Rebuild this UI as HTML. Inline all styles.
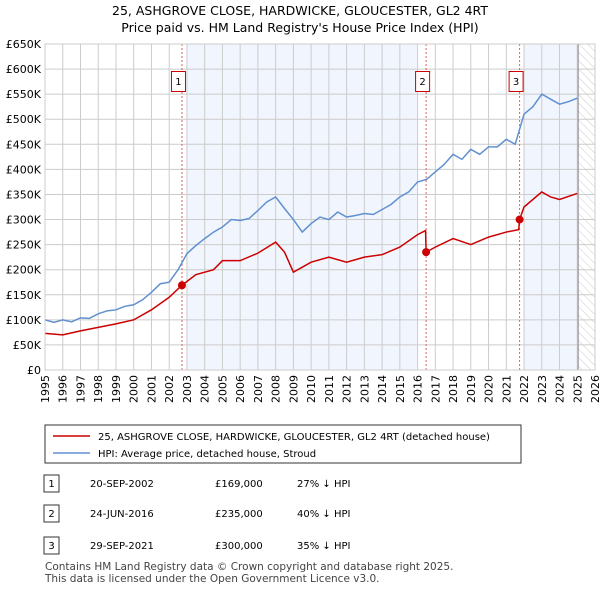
<!DOCTYPE html>
<html><head><meta charset="utf-8"><style>
body{margin:0;background:#fff;font-family:"DejaVu Sans","Liberation Sans",sans-serif;}
svg{display:block}
</style></head><body>
<svg width="600" height="590" xmlns="http://www.w3.org/2000/svg" font-family="DejaVu Sans, Liberation Sans, sans-serif">
<text x="300" y="15" text-anchor="middle" font-size="12.5">25, ASHGROVE CLOSE, HARDWICKE, GLOUCESTER, GL2 4RT</text>
<text x="300" y="32" text-anchor="middle" font-size="12.5">Price paid vs. HM Land Registry's House Price Index (HPI)</text>
<defs><pattern id="hatch" width="6" height="6" patternUnits="userSpaceOnUse" patternTransform="rotate(-45)"><line x1="0" y1="0" x2="0" y2="6" stroke="#ccc" stroke-width="1"/></pattern></defs>
<g id="plot"></g>
<g>
<rect x="45" y="425" width="476" height="38" fill="#fff" stroke="#333"/>
<line x1="53" y1="436" x2="90" y2="436" stroke="#cc0000" stroke-width="1.5"/>
<text x="98" y="440" font-size="10">25, ASHGROVE CLOSE, HARDWICKE, GLOUCESTER, GL2 4RT (detached house)</text>
<line x1="53" y1="453" x2="90" y2="453" stroke="#6090d0" stroke-width="1.5"/>
<text x="98" y="457" font-size="10">HPI: Average price, detached house, Stroud</text>
</g>
<g font-size="10">
<rect x="44" y="475" width="15" height="17" fill="#fff" stroke="#333"/><text x="51.5" y="487" text-anchor="middle">1</text>
<text x="90" y="487">20-SEP-2002</text><text x="215" y="487">£169,000</text><text x="297" y="487">27% ↓ HPI</text>
<rect x="44" y="505" width="15" height="17" fill="#fff" stroke="#333"/><text x="51.5" y="517" text-anchor="middle">2</text>
<text x="90" y="517">24-JUN-2016</text><text x="215" y="517">£235,000</text><text x="297" y="517">40% ↓ HPI</text>
<rect x="44" y="537" width="15" height="17" fill="#fff" stroke="#333"/><text x="51.5" y="549" text-anchor="middle">3</text>
<text x="90" y="549">29-SEP-2021</text><text x="215" y="549">£300,000</text><text x="297" y="549">35% ↓ HPI</text>
</g>
<text x="45" y="570" font-size="10.5" fill="#444">Contains HM Land Registry data © Crown copyright and database right 2025.</text>
<text x="45" y="582" font-size="10.5" fill="#444">This data is licensed under the Open Government Licence v3.0.</text>
</svg>
<script>
const hpiYears=[1995,1995.5,1996,1996.5,1997,1997.5,1998,1998.5,1999,1999.5,2000,2000.5,2001,2001.5,2002,2002.5,2003,2003.5,2004,2004.5,2005,2005.5,2006,2006.5,2007,2007.5,2008,2008.5,2009,2009.5,2010,2010.5,2011,2011.5,2012,2012.5,2013,2013.5,2014,2014.5,2015,2015.5,2016,2016.5,2017,2017.5,2018,2018.5,2019,2019.5,2020,2020.5,2021,2021.5,2022,2022.5,2023,2023.5,2024,2024.5,2025];
const hpiValues=[100,95,100,96,104,103,112,118,120,127,130,140,155,172,175,200,232,248,262,275,285,300,298,302,318,335,345,322,300,275,292,305,300,315,305,308,312,310,320,330,345,355,375,380,395,410,430,420,440,430,445,445,460,450,510,525,550,540,530,535,542];
const redYears=[1995,1996,1997,1998,1999,2000,2001,2002,2002.72,2003.5,2004.5,2005,2006,2007,2008,2008.5,2009,2010,2011,2012,2013,2014,2015,2016,2016.45,2016.48,2017,2018,2019,2020,2021,2021.7,2021.75,2022,2023,2023.5,2024,2025];
const redValues=[73,70,78,85,92,100,120,145,169,190,200,218,218,233,255,235,195,215,225,215,225,230,245,270,278,235,245,262,250,265,275,280,300,325,355,345,340,352];
const yTicks=[0,50,100,150,200,250,300,350,400,450,500,550,600,650];
const yTickLabels=["£0","£50K","£100K","£150K","£200K","£250K","£300K","£350K","£400K","£450K","£500K","£550K","£600K","£650K"];
const xTicks=[1995,1996,1997,1998,1999,2000,2001,2002,2003,2004,2005,2006,2007,2008,2009,2010,2011,2012,2013,2014,2015,2016,2017,2018,2019,2020,2021,2022,2023,2024,2025,2026];
const saleYears=[2002.72,2016.48,2021.75];
const saleValues=[169,235,300];
const saleLabels=["1","2","3"];
const shadeRanges=[[2003,2016],[2022,2025.05]];
const X0=45,X1=595,Y0=370,Y1=44;
const xs=y=>X0+(y-1995)/(2026-1995)*(X1-X0);
const ys=v=>Y0-v/650*(Y0-Y1);
const NS="http://www.w3.org/2000/svg";
const g=document.getElementById('plot');
function mk(t,a){const e=document.createElementNS(NS,t);for(const k in a)e.setAttribute(k,a[k]);g.appendChild(e);return e;}
shadeRanges.forEach(r=>{const e=mk('rect',{x:xs(r[0]),y:Y1,width:xs(r[1])-xs(r[0]),height:Y0-Y1,fill:'#f1f5fd'});

});
const h=mk('rect',{x:xs(2025.05),y:Y1,width:X1-xs(2025.05),height:Y0-Y1,fill:'url(#hatch)'});


yTicks.forEach((v,i)=>{mk('line',{x1:X0,x2:X1,y1:ys(v),y2:ys(v),stroke:'#ccc'});
const t=mk('text',{x:X0-4,y:ys(v)+4,'text-anchor':'end','font-size':11});t.textContent=yTickLabels[i];

});
xTicks.forEach(y=>{mk('line',{x1:xs(y),x2:xs(y),y1:Y1,y2:Y0,stroke:'#ccc'});
const t=mk('text',{x:xs(y)+4,y:Y0+5,'font-size':11,'text-anchor':'end',transform:`rotate(-90 ${xs(y)+4} ${Y0+5})`});t.textContent=y;

});
mk('line',{x1:xs(2025.05),x2:xs(2025.05),y1:Y1,y2:Y0,stroke:'#888'});
saleYears.forEach((y,i)=>{mk('line',{x1:xs(y),x2:xs(y),y1:Y1,y2:Y0,stroke:'#e06060','stroke-dasharray':'2,2'});
const b=mk('rect',{x:xs(y)-10.5,y:71.5,width:14,height:20,fill:'#fff',stroke:'#cc0000'});


const t=mk('text',{x:xs(y)-3.5,y:85,'text-anchor':'middle','font-size':10});t.textContent=saleLabels[i];});
function line(xsArr,vs,c,name){const p=mk('polyline',{points:xsArr.map((y,i)=>xs(y)+','+ys(vs[i])).join(' '),fill:'none',stroke:c,'stroke-width':1.5});

}
line(hpiYears,hpiValues,'#6090d0','hpi-line');
line(redYears,redValues,'#cc0000','price-paid-line');
saleYears.forEach((y,i)=>{const c=mk('circle',{cx:xs(y),cy:ys(saleValues[i]),r:4,fill:'#cc0000'});

});
mk('rect',{x:X0,y:Y1,width:X1-X0,height:Y0-Y1,fill:'none',stroke:'#ccc'});
</script>
</body></html>
